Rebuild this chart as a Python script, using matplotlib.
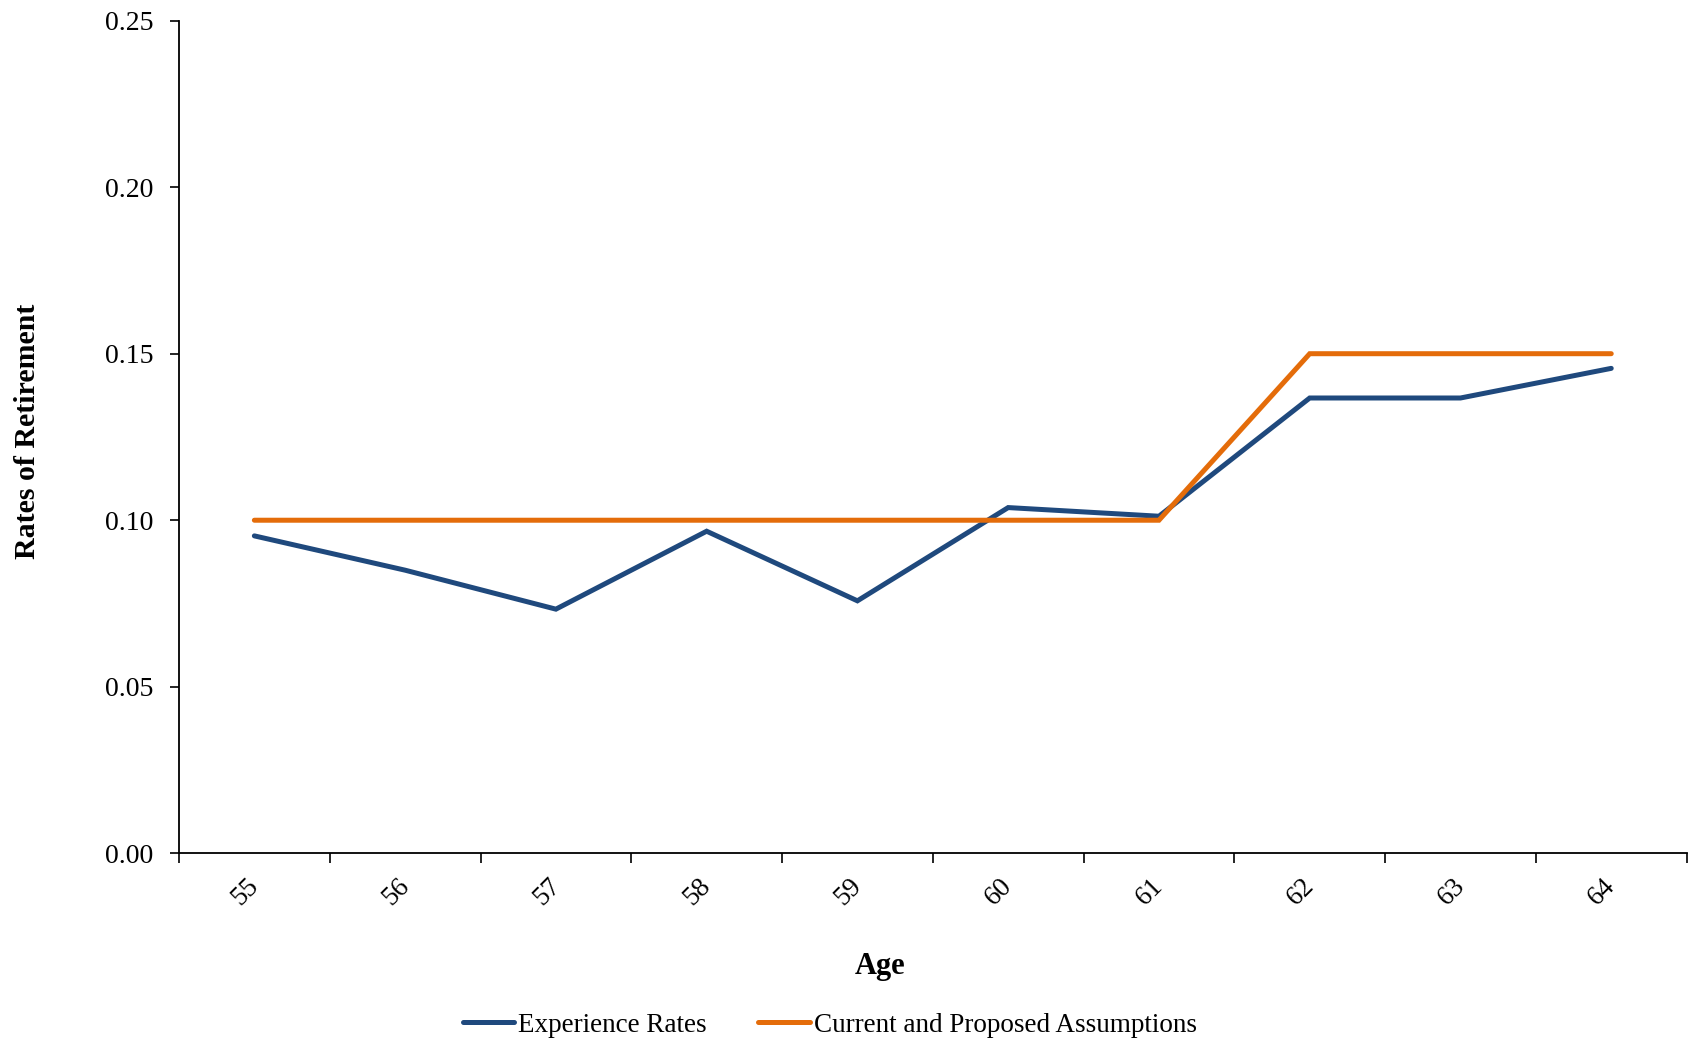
import matplotlib
matplotlib.use("Agg")
import matplotlib.pyplot as plt
from matplotlib.ticker import FixedLocator, NullFormatter, FixedFormatter
from matplotlib.transforms import ScaledTranslation

ages = ["55", "56", "57", "58", "59", "60", "61", "62", "63", "64"]
experience_rates = [0.0953, 0.0850, 0.0733, 0.0967, 0.0758, 0.1038, 0.1012, 0.1367, 0.1367, 0.1456]
assumptions = [0.10, 0.10, 0.10, 0.10, 0.10, 0.10, 0.10, 0.15, 0.15, 0.15]
y_ticks = [0.00, 0.05, 0.10, 0.15, 0.20, 0.25]

plt.rcParams["font.family"] = ["Liberation Serif", "DejaVu Serif"]

fig = plt.figure(figsize=(16.9, 10.43), dpi=100)
ax = fig.add_axes([0.1059, 0.1819, 0.8921, 0.7983])

x = list(range(len(ages)))
blue = "#1F497D"
orange = "#E46C0A"
ax.plot(x, experience_rates, color=blue, lw=3.6, solid_capstyle="round",
        solid_joinstyle="miter", label="Experience Rates")
ax.plot(x, assumptions, color=orange, lw=3.6, solid_capstyle="round",
        solid_joinstyle="miter", label="Current and Proposed Assumptions")

ax.set_xlim(-0.5, len(ages) - 0.5)
ax.set_ylim(0, 0.25)

# Tick marks sit on category boundaries; labels sit at category centres
ax.xaxis.set_major_locator(FixedLocator([i - 0.5 for i in range(len(ages) + 1)]))
ax.xaxis.set_major_formatter(NullFormatter())
ax.xaxis.set_minor_locator(FixedLocator(x))
ax.xaxis.set_minor_formatter(FixedFormatter(ages))
ax.tick_params(axis="x", which="major", direction="out", length=7.5, width=1.2, color="black")
ax.tick_params(axis="x", which="minor", length=0, pad=28, labelsize=19.5)
shift = ScaledTranslation(-9 / 100, 0, fig.dpi_scale_trans)
for lbl in ax.get_xticklabels(minor=True):
    lbl.set_rotation(45)
    lbl.set_ha("center")
    lbl.set_va("center")
    lbl.set_transform(lbl.get_transform() + shift)

ax.set_yticks(y_ticks)
ax.set_yticklabels([f"{v:.2f}" for v in y_ticks])
ax.tick_params(axis="y", direction="out", length=6.5, width=1.2, pad=12, labelsize=20)

for side in ("top", "right"):
    ax.spines[side].set_visible(False)
for side in ("left", "bottom"):
    ax.spines[side].set_linewidth(1.3)
    ax.spines[side].set_color("black")

fig.text(0.016, 0.586, "Rates of Retirement", rotation=90, ha="center", va="center",
         fontsize=21.5, fontweight="bold")
fig.text(0.521, 0.073, "Age", ha="center", va="center", fontsize=22, fontweight="bold")

handles, labels = ax.get_legend_handles_labels()
fig.legend(handles, labels, loc="center", bbox_to_anchor=(0.491, 0.017), ncol=2,
           frameon=False, fontsize=19.5, handlelength=1.9, handletextpad=0.15,
           columnspacing=1.9, borderpad=0.0)

fig.savefig("out.png", dpi=100)
